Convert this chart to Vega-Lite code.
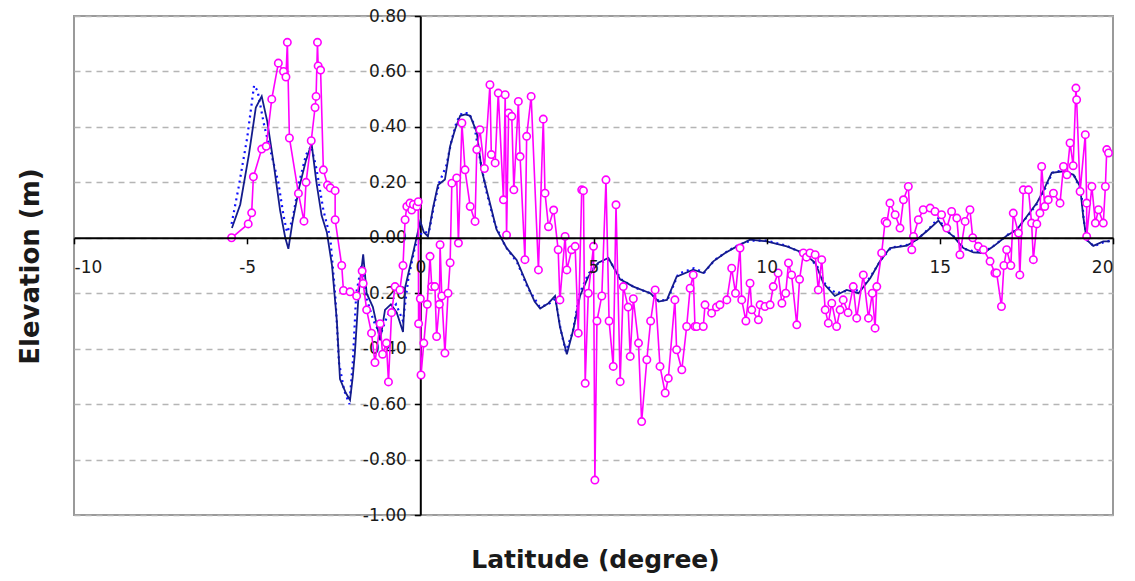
{
  "$schema": "https://vega.github.io/schema/vega-lite/v6.json",
  "autosize": {"type": "none"},
  "width": 1039,
  "height": 499,
  "padding": {"left": 74, "top": 16, "right": 22, "bottom": 66},
  "background": "white",
  "config": {
    "view": {"stroke": "#9a9a9a", "strokeWidth": 2},
    "font": "DejaVu Sans"
  },
  "datasets": {
    "observed": [
      {"lat": -5.45, "elev": 0.0}, {"lat": -4.97, "elev": 0.05}, {"lat": -4.87, "elev": 0.09}, {"lat": -4.82, "elev": 0.22},
      {"lat": -4.58, "elev": 0.32}, {"lat": -4.45, "elev": 0.33}, {"lat": -4.29, "elev": 0.5}, {"lat": -4.1, "elev": 0.63},
      {"lat": -3.95, "elev": 0.6}, {"lat": -3.88, "elev": 0.58}, {"lat": -3.84, "elev": 0.705}, {"lat": -3.78, "elev": 0.36},
      {"lat": -3.52, "elev": 0.16}, {"lat": -3.36, "elev": 0.06}, {"lat": -3.3, "elev": 0.2}, {"lat": -3.15, "elev": 0.35},
      {"lat": -3.04, "elev": 0.47}, {"lat": -3.01, "elev": 0.51}, {"lat": -2.97, "elev": 0.705}, {"lat": -2.95, "elev": 0.62},
      {"lat": -2.88, "elev": 0.605}, {"lat": -2.8, "elev": 0.245}, {"lat": -2.68, "elev": 0.19}, {"lat": -2.6, "elev": 0.18},
      {"lat": -2.46, "elev": 0.17}, {"lat": -2.46, "elev": 0.065}, {"lat": -2.27, "elev": -0.1}, {"lat": -2.22, "elev": -0.19},
      {"lat": -2.03, "elev": -0.195}, {"lat": -1.84, "elev": -0.21}, {"lat": -1.68, "elev": -0.12}, {"lat": -1.65, "elev": -0.165},
      {"lat": -1.55, "elev": -0.26}, {"lat": -1.41, "elev": -0.344}, {"lat": -1.31, "elev": -0.45}, {"lat": -1.16, "elev": -0.31},
      {"lat": -1.09, "elev": -0.42}, {"lat": -0.98, "elev": -0.38}, {"lat": -0.92, "elev": -0.52}, {"lat": -0.83, "elev": -0.27},
      {"lat": -0.73, "elev": -0.176}, {"lat": -0.59, "elev": -0.188}, {"lat": -0.5, "elev": -0.1}, {"lat": -0.44, "elev": 0.065},
      {"lat": -0.39, "elev": 0.113}, {"lat": -0.3, "elev": 0.125}, {"lat": -0.25, "elev": 0.1}, {"lat": -0.2, "elev": 0.12},
      {"lat": -0.1, "elev": 0.113}, {"lat": -0.06, "elev": 0.13}, {"lat": -0.05, "elev": -0.31}, {"lat": 0.0, "elev": -0.22},
      {"lat": 0.02, "elev": -0.495}, {"lat": 0.1, "elev": -0.38}, {"lat": 0.2, "elev": -0.24}, {"lat": 0.28, "elev": -0.067},
      {"lat": 0.33, "elev": -0.176}, {"lat": 0.42, "elev": -0.176}, {"lat": 0.47, "elev": -0.356}, {"lat": 0.55, "elev": -0.24},
      {"lat": 0.57, "elev": -0.025}, {"lat": 0.62, "elev": -0.21}, {"lat": 0.71, "elev": -0.416}, {"lat": 0.8, "elev": -0.2},
      {"lat": 0.86, "elev": -0.09}, {"lat": 0.91, "elev": 0.197}, {"lat": 1.05, "elev": 0.216}, {"lat": 1.1, "elev": -0.019},
      {"lat": 1.2, "elev": 0.414}, {"lat": 1.29, "elev": 0.245}, {"lat": 1.44, "elev": 0.113}, {"lat": 1.58, "elev": 0.059},
      {"lat": 1.63, "elev": 0.318}, {"lat": 1.72, "elev": 0.39}, {"lat": 1.85, "elev": 0.25}, {"lat": 2.01, "elev": 0.552},
      {"lat": 2.05, "elev": 0.3}, {"lat": 2.16, "elev": 0.27}, {"lat": 2.25, "elev": 0.522}, {"lat": 2.4, "elev": 0.137},
      {"lat": 2.45, "elev": 0.516}, {"lat": 2.49, "elev": 0.01}, {"lat": 2.55, "elev": 0.45}, {"lat": 2.64, "elev": 0.438},
      {"lat": 2.7, "elev": 0.173}, {"lat": 2.83, "elev": 0.492}, {"lat": 2.88, "elev": 0.293}, {"lat": 3.02, "elev": -0.079},
      {"lat": 3.07, "elev": 0.366}, {"lat": 3.2, "elev": 0.51}, {"lat": 3.41, "elev": -0.116}, {"lat": 3.55, "elev": 0.428},
      {"lat": 3.6, "elev": 0.161}, {"lat": 3.7, "elev": 0.04}, {"lat": 3.85, "elev": 0.1}, {"lat": 3.98, "elev": -0.043},
      {"lat": 4.03, "elev": -0.224}, {"lat": 4.18, "elev": 0.005}, {"lat": 4.23, "elev": -0.116}, {"lat": 4.37, "elev": -0.043},
      {"lat": 4.47, "elev": -0.031}, {"lat": 4.56, "elev": -0.344}, {"lat": 4.66, "elev": 0.173}, {"lat": 4.71, "elev": 0.17},
      {"lat": 4.76, "elev": -0.525}, {"lat": 4.85, "elev": -0.2}, {"lat": 5.0, "elev": -0.031}, {"lat": 5.04, "elev": -0.874},
      {"lat": 5.1, "elev": -0.3}, {"lat": 5.24, "elev": -0.21}, {"lat": 5.36, "elev": 0.209}, {"lat": 5.45, "elev": -0.3},
      {"lat": 5.57, "elev": -0.464}, {"lat": 5.65, "elev": 0.119}, {"lat": 5.77, "elev": -0.519}, {"lat": 5.86, "elev": -0.176},
      {"lat": 6.0, "elev": -0.25}, {"lat": 6.06, "elev": -0.428}, {"lat": 6.15, "elev": -0.22}, {"lat": 6.3, "elev": -0.38},
      {"lat": 6.39, "elev": -0.663}, {"lat": 6.54, "elev": -0.44}, {"lat": 6.65, "elev": -0.3}, {"lat": 6.78, "elev": -0.188},
      {"lat": 6.92, "elev": -0.464}, {"lat": 7.07, "elev": -0.56}, {"lat": 7.16, "elev": -0.507}, {"lat": 7.35, "elev": -0.224},
      {"lat": 7.4, "elev": -0.404}, {"lat": 7.55, "elev": -0.476}, {"lat": 7.69, "elev": -0.32}, {"lat": 7.79, "elev": -0.182},
      {"lat": 7.88, "elev": -0.134}, {"lat": 7.93, "elev": -0.32}, {"lat": 7.98, "elev": -0.32}, {"lat": 8.17, "elev": -0.32},
      {"lat": 8.22, "elev": -0.242}, {"lat": 8.41, "elev": -0.272}, {"lat": 8.55, "elev": -0.25}, {"lat": 8.65, "elev": -0.242},
      {"lat": 8.85, "elev": -0.224}, {"lat": 8.99, "elev": -0.11}, {"lat": 9.1, "elev": -0.2}, {"lat": 9.23, "elev": -0.037},
      {"lat": 9.28, "elev": -0.224}, {"lat": 9.4, "elev": -0.3}, {"lat": 9.52, "elev": -0.164}, {"lat": 9.57, "elev": -0.26},
      {"lat": 9.76, "elev": -0.296}, {"lat": 9.81, "elev": -0.242}, {"lat": 9.95, "elev": -0.248}, {"lat": 10.1, "elev": -0.242},
      {"lat": 10.19, "elev": -0.176}, {"lat": 10.33, "elev": -0.127}, {"lat": 10.44, "elev": -0.236}, {"lat": 10.55, "elev": -0.2},
      {"lat": 10.63, "elev": -0.091}, {"lat": 10.72, "elev": -0.134}, {"lat": 10.87, "elev": -0.314}, {"lat": 10.95, "elev": -0.15},
      {"lat": 11.06, "elev": -0.055}, {"lat": 11.15, "elev": -0.07}, {"lat": 11.25, "elev": -0.055}, {"lat": 11.4, "elev": -0.061},
      {"lat": 11.49, "elev": -0.188}, {"lat": 11.59, "elev": -0.079}, {"lat": 11.69, "elev": -0.26}, {"lat": 11.78, "elev": -0.308},
      {"lat": 11.88, "elev": -0.236}, {"lat": 12.02, "elev": -0.32}, {"lat": 12.12, "elev": -0.26}, {"lat": 12.21, "elev": -0.224},
      {"lat": 12.35, "elev": -0.27}, {"lat": 12.5, "elev": -0.176}, {"lat": 12.6, "elev": -0.29}, {"lat": 12.79, "elev": -0.134},
      {"lat": 12.94, "elev": -0.29}, {"lat": 13.05, "elev": -0.2}, {"lat": 13.13, "elev": -0.326}, {"lat": 13.18, "elev": -0.176},
      {"lat": 13.32, "elev": -0.055}, {"lat": 13.42, "elev": 0.059}, {"lat": 13.47, "elev": 0.053}, {"lat": 13.56, "elev": 0.125},
      {"lat": 13.71, "elev": 0.083}, {"lat": 13.85, "elev": 0.035}, {"lat": 13.95, "elev": 0.137}, {"lat": 14.09, "elev": 0.185},
      {"lat": 14.19, "elev": -0.043}, {"lat": 14.24, "elev": 0.005}, {"lat": 14.38, "elev": 0.065}, {"lat": 14.52, "elev": 0.101},
      {"lat": 14.72, "elev": 0.107}, {"lat": 14.86, "elev": 0.095}, {"lat": 15.05, "elev": 0.083}, {"lat": 15.2, "elev": 0.035},
      {"lat": 15.34, "elev": 0.095}, {"lat": 15.49, "elev": 0.071}, {"lat": 15.58, "elev": -0.061}, {"lat": 15.73, "elev": 0.059},
      {"lat": 15.87, "elev": 0.101}, {"lat": 15.95, "elev": 0.0}, {"lat": 16.11, "elev": -0.031}, {"lat": 16.26, "elev": -0.043},
      {"lat": 16.45, "elev": -0.085}, {"lat": 16.59, "elev": -0.127}, {"lat": 16.64, "elev": -0.127}, {"lat": 16.78, "elev": -0.248},
      {"lat": 16.85, "elev": -0.1}, {"lat": 16.93, "elev": -0.043}, {"lat": 17.05, "elev": -0.1}, {"lat": 17.12, "elev": 0.089},
      {"lat": 17.27, "elev": 0.017}, {"lat": 17.31, "elev": -0.134}, {"lat": 17.41, "elev": 0.173}, {"lat": 17.56, "elev": 0.173},
      {"lat": 17.65, "elev": 0.053}, {"lat": 17.7, "elev": -0.079}, {"lat": 17.8, "elev": 0.05}, {"lat": 17.89, "elev": 0.089},
      {"lat": 17.94, "elev": 0.257}, {"lat": 18.03, "elev": 0.113}, {"lat": 18.13, "elev": 0.137}, {"lat": 18.28, "elev": 0.161},
      {"lat": 18.47, "elev": 0.125}, {"lat": 18.57, "elev": 0.257}, {"lat": 18.67, "elev": 0.227}, {"lat": 18.76, "elev": 0.342},
      {"lat": 18.85, "elev": 0.26}, {"lat": 18.93, "elev": 0.54}, {"lat": 18.95, "elev": 0.498}, {"lat": 19.05, "elev": 0.167},
      {"lat": 19.2, "elev": 0.372}, {"lat": 19.24, "elev": 0.125}, {"lat": 19.24, "elev": 0.005}, {"lat": 19.39, "elev": 0.185},
      {"lat": 19.49, "elev": 0.053}, {"lat": 19.58, "elev": 0.101}, {"lat": 19.72, "elev": 0.053}, {"lat": 19.78, "elev": 0.185},
      {"lat": 19.82, "elev": 0.318}, {"lat": 19.87, "elev": 0.306}
    ],
    "model": [
      {"lat": -5.44, "elev": 0.035}, {"lat": -5.2, "elev": 0.12}, {"lat": -4.95, "elev": 0.3}, {"lat": -4.75, "elev": 0.47},
      {"lat": -4.58, "elev": 0.51}, {"lat": -4.42, "elev": 0.42}, {"lat": -4.25, "elev": 0.28}, {"lat": -4.05, "elev": 0.1},
      {"lat": -3.9, "elev": 0.0}, {"lat": -3.81, "elev": -0.04}, {"lat": -3.7, "elev": 0.05}, {"lat": -3.5, "elev": 0.18},
      {"lat": -3.3, "elev": 0.28}, {"lat": -3.14, "elev": 0.34}, {"lat": -3.0, "elev": 0.2}, {"lat": -2.85, "elev": 0.08},
      {"lat": -2.7, "elev": 0.02}, {"lat": -2.55, "elev": -0.1}, {"lat": -2.41, "elev": -0.3}, {"lat": -2.32, "elev": -0.51},
      {"lat": -2.15, "elev": -0.56}, {"lat": -2.03, "elev": -0.585}, {"lat": -1.95, "elev": -0.5}, {"lat": -1.89, "elev": -0.415},
      {"lat": -1.78, "elev": -0.2}, {"lat": -1.65, "elev": -0.06}, {"lat": -1.55, "elev": -0.2}, {"lat": -1.37, "elev": -0.25},
      {"lat": -1.16, "elev": -0.37}, {"lat": -1.02, "elev": -0.26}, {"lat": -0.85, "elev": -0.24}, {"lat": -0.68, "elev": -0.27},
      {"lat": -0.5, "elev": -0.34}, {"lat": -0.44, "elev": -0.18}, {"lat": -0.21, "elev": -0.055}, {"lat": 0.0, "elev": 0.06},
      {"lat": 0.1, "elev": 0.02}, {"lat": 0.22, "elev": 0.005}, {"lat": 0.37, "elev": 0.11}, {"lat": 0.51, "elev": 0.19},
      {"lat": 0.71, "elev": 0.21}, {"lat": 0.86, "elev": 0.33}, {"lat": 1.0, "elev": 0.39}, {"lat": 1.15, "elev": 0.44},
      {"lat": 1.3, "elev": 0.445}, {"lat": 1.44, "elev": 0.44}, {"lat": 1.63, "elev": 0.38}, {"lat": 1.77, "elev": 0.245},
      {"lat": 1.96, "elev": 0.15}, {"lat": 2.2, "elev": 0.03}, {"lat": 2.49, "elev": -0.037}, {"lat": 2.78, "elev": -0.08},
      {"lat": 3.07, "elev": -0.165}, {"lat": 3.3, "elev": -0.23}, {"lat": 3.46, "elev": -0.255}, {"lat": 3.7, "elev": -0.236},
      {"lat": 3.89, "elev": -0.21}, {"lat": 4.03, "elev": -0.32}, {"lat": 4.23, "elev": -0.42}, {"lat": 4.42, "elev": -0.33},
      {"lat": 4.61, "elev": -0.21}, {"lat": 4.85, "elev": -0.14}, {"lat": 5.14, "elev": -0.09}, {"lat": 5.43, "elev": -0.073},
      {"lat": 5.77, "elev": -0.15}, {"lat": 6.15, "elev": -0.176}, {"lat": 6.64, "elev": -0.2}, {"lat": 6.88, "elev": -0.23},
      {"lat": 7.12, "elev": -0.224}, {"lat": 7.4, "elev": -0.14}, {"lat": 7.88, "elev": -0.115}, {"lat": 8.17, "elev": -0.127},
      {"lat": 8.46, "elev": -0.085}, {"lat": 8.8, "elev": -0.055}, {"lat": 9.14, "elev": -0.031}, {"lat": 9.52, "elev": -0.007},
      {"lat": 10.0, "elev": -0.013}, {"lat": 10.58, "elev": -0.031}, {"lat": 11.06, "elev": -0.055}, {"lat": 11.4, "elev": -0.09},
      {"lat": 11.64, "elev": -0.164}, {"lat": 11.97, "elev": -0.21}, {"lat": 12.31, "elev": -0.188}, {"lat": 12.65, "elev": -0.2},
      {"lat": 12.99, "elev": -0.146}, {"lat": 13.27, "elev": -0.085}, {"lat": 13.56, "elev": -0.037}, {"lat": 14.05, "elev": -0.028},
      {"lat": 14.33, "elev": -0.007}, {"lat": 14.67, "elev": 0.029}, {"lat": 14.96, "elev": 0.062}, {"lat": 15.15, "elev": 0.029},
      {"lat": 15.39, "elev": 0.005}, {"lat": 15.68, "elev": -0.037}, {"lat": 15.97, "elev": -0.053}, {"lat": 16.26, "elev": -0.055},
      {"lat": 16.55, "elev": -0.031}, {"lat": 16.93, "elev": 0.007}, {"lat": 17.22, "elev": 0.029}, {"lat": 17.51, "elev": 0.077},
      {"lat": 17.8, "elev": 0.125}, {"lat": 18.0, "elev": 0.173}, {"lat": 18.23, "elev": 0.234}, {"lat": 18.57, "elev": 0.24},
      {"lat": 18.86, "elev": 0.227}, {"lat": 19.05, "elev": 0.185}, {"lat": 19.14, "elev": 0.077}, {"lat": 19.24, "elev": -0.007},
      {"lat": 19.43, "elev": -0.029}, {"lat": 19.72, "elev": -0.013}, {"lat": 19.91, "elev": -0.013}
    ],
    "model_alt": [
      {"lat": -5.45, "elev": 0.05}, {"lat": -5.25, "elev": 0.18}, {"lat": -5.0, "elev": 0.36}, {"lat": -4.8, "elev": 0.55},
      {"lat": -4.7, "elev": 0.53}, {"lat": -4.5, "elev": 0.4}, {"lat": -4.3, "elev": 0.3}, {"lat": -4.1, "elev": 0.2},
      {"lat": -3.95, "elev": 0.08}, {"lat": -3.85, "elev": 0.02}, {"lat": -3.7, "elev": 0.06}, {"lat": -3.5, "elev": 0.2},
      {"lat": -3.3, "elev": 0.3}, {"lat": -3.15, "elev": 0.33}, {"lat": -3.0, "elev": 0.25}, {"lat": -2.8, "elev": 0.1},
      {"lat": -2.6, "elev": 0.0}, {"lat": -2.45, "elev": -0.22}, {"lat": -2.35, "elev": -0.45}, {"lat": -2.2, "elev": -0.55},
      {"lat": -2.05, "elev": -0.6}, {"lat": -1.95, "elev": -0.45}, {"lat": -1.85, "elev": -0.2}, {"lat": -1.7, "elev": -0.1},
      {"lat": -1.55, "elev": -0.22}, {"lat": -1.35, "elev": -0.3}, {"lat": -1.15, "elev": -0.35}, {"lat": -0.95, "elev": -0.28},
      {"lat": -0.7, "elev": -0.24}, {"lat": -0.5, "elev": -0.3}, {"lat": -0.35, "elev": -0.15}, {"lat": -0.15, "elev": -0.03},
      {"lat": 0.05, "elev": 0.02}, {"lat": 0.25, "elev": 0.02}, {"lat": 0.4, "elev": 0.12}, {"lat": 0.55, "elev": 0.2},
      {"lat": 0.75, "elev": 0.26}, {"lat": 0.9, "elev": 0.35}, {"lat": 1.05, "elev": 0.42}, {"lat": 1.2, "elev": 0.45},
      {"lat": 1.4, "elev": 0.45}, {"lat": 1.55, "elev": 0.41}, {"lat": 1.7, "elev": 0.3}, {"lat": 1.9, "elev": 0.17},
      {"lat": 2.15, "elev": 0.05}, {"lat": 2.45, "elev": -0.03}, {"lat": 2.8, "elev": -0.09}, {"lat": 3.1, "elev": -0.18},
      {"lat": 3.45, "elev": -0.25}, {"lat": 3.7, "elev": -0.24}, {"lat": 3.9, "elev": -0.22}, {"lat": 4.05, "elev": -0.33},
      {"lat": 4.2, "elev": -0.41}, {"lat": 4.4, "elev": -0.34}, {"lat": 4.6, "elev": -0.2}, {"lat": 4.85, "elev": -0.13},
      {"lat": 5.15, "elev": -0.09}, {"lat": 5.45, "elev": -0.08}, {"lat": 5.8, "elev": -0.15}, {"lat": 6.2, "elev": -0.18},
      {"lat": 6.65, "elev": -0.2}, {"lat": 6.9, "elev": -0.23}, {"lat": 7.15, "elev": -0.22}, {"lat": 7.45, "elev": -0.13},
      {"lat": 7.9, "elev": -0.11}, {"lat": 8.2, "elev": -0.125}, {"lat": 8.5, "elev": -0.08}, {"lat": 8.85, "elev": -0.05},
      {"lat": 9.2, "elev": -0.025}, {"lat": 9.55, "elev": -0.01}, {"lat": 10.0, "elev": -0.01}, {"lat": 10.6, "elev": -0.03},
      {"lat": 11.1, "elev": -0.06}, {"lat": 11.45, "elev": -0.1}, {"lat": 11.7, "elev": -0.17}, {"lat": 12.0, "elev": -0.2},
      {"lat": 12.35, "elev": -0.19}, {"lat": 12.7, "elev": -0.19}, {"lat": 13.0, "elev": -0.14}, {"lat": 13.3, "elev": -0.08},
      {"lat": 13.6, "elev": -0.035}, {"lat": 14.1, "elev": -0.025}, {"lat": 14.4, "elev": 0.0}, {"lat": 14.7, "elev": 0.035},
      {"lat": 14.95, "elev": 0.07}, {"lat": 15.2, "elev": 0.025}, {"lat": 15.45, "elev": 0.0}, {"lat": 15.7, "elev": -0.04},
      {"lat": 16.0, "elev": -0.05}, {"lat": 16.3, "elev": -0.05}, {"lat": 16.6, "elev": -0.025}, {"lat": 16.95, "elev": 0.01},
      {"lat": 17.25, "elev": 0.035}, {"lat": 17.55, "elev": 0.08}, {"lat": 17.85, "elev": 0.13}, {"lat": 18.05, "elev": 0.18},
      {"lat": 18.25, "elev": 0.235}, {"lat": 18.6, "elev": 0.245}, {"lat": 18.9, "elev": 0.22}, {"lat": 19.08, "elev": 0.17},
      {"lat": 19.16, "elev": 0.06}, {"lat": 19.26, "elev": -0.01}, {"lat": 19.45, "elev": -0.03}, {"lat": 19.75, "elev": -0.015},
      {"lat": 19.95, "elev": -0.01}
    ]
  },
  "encoding": {
    "x": {
      "field": "lat",
      "type": "quantitative",
      "scale": {"domain": [-10, 20], "nice": false, "zero": false},
      "axis": {
        "orient": "bottom",
        "offset": -277.2,
        "zindex": 1,
        "values": [-10, -5, 0, 5, 10, 15, 20],
        "grid": false,
        "domainColor": "black",
        "domainWidth": 2,
        "tickColor": "black",
        "tickWidth": 1.5,
        "tickSize": 6,
        "labelFont": "DejaVu Sans",
        "labelFontSize": 17,
        "labelColor": "#1a1a1a",
        "labelPadding": 16,
        "labelOverlap": false,
        "labelFlush": true,
        "labelExpr": "replace(format(datum.value, 'd'), '\u2212', '-')",
        "title": "Latitude (degree)",
        "titleFont": "DejaVu Sans",
        "titleFontSize": 25,
        "titleFontWeight": "bold",
        "titleColor": "#1a1a1a",
        "titleX": 521,
        "titleY": 322,
        "titleBaseline": "middle",
        "titleAlign": "center"
      }
    },
    "y": {
      "field": "elev",
      "type": "quantitative",
      "scale": {"domain": [-1, 0.8], "nice": false, "zero": false},
      "axis": {
        "orient": "left",
        "offset": -346.3,
        "values": [-1, -0.8, -0.6, -0.4, -0.2, 0, 0.2, 0.4, 0.6, 0.8],
        "grid": true,
        "gridColor": "#b5b5b5",
        "gridDash": [6, 5],
        "gridWidth": 1.3,
        "domainColor": "black",
        "domainWidth": 2,
        "tickColor": "black",
        "tickWidth": 1.5,
        "tickSize": 6,
        "labelFont": "DejaVu Sans",
        "labelFontSize": 17,
        "labelColor": "#1a1a1a",
        "labelPadding": 8,
        "labelOverlap": false,
        "labelExpr": "replace(format(datum.value, '.2f'), '\u2212', '-')",
        "title": "Elevation (m)",
        "titleFont": "DejaVu Sans",
        "titleFontSize": 26,
        "titleFontWeight": "bold",
        "titleColor": "#1a1a1a",
        "titleAngle": -90,
        "titleX": -390,
        "titleY": 250,
        "titleBaseline": "middle",
        "titleAlign": "center"
      }
    }
  },
  "layer": [
    {
      "data": {"name": "model_alt"},
      "mark": {"type": "line", "color": "#1010ff", "strokeWidth": 2.2, "strokeDash": [2, 4]},
      "encoding": {"order": {"value": null}}
    },
    {
      "data": {"name": "model"},
      "mark": {"type": "line", "color": "#141c8c", "strokeWidth": 1.8},
      "encoding": {"order": {"value": null}}
    },
    {
      "data": {"name": "observed"},
      "mark": {"type": "line", "color": "#ff00ff", "strokeWidth": 1.6},
      "encoding": {"order": {"value": null}}
    },
    {
      "data": {"name": "observed"},
      "mark": {"type": "point", "shape": "circle", "filled": true, "fill": "white", "stroke": "#ff00ff", "strokeWidth": 1.6, "size": 55, "opacity": 1}
    }
  ]
}
